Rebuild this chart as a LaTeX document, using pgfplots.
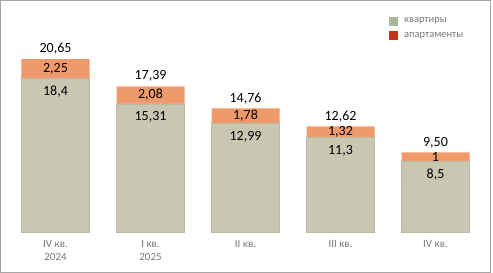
\documentclass[border=0pt]{standalone}
\usepackage{fontspec}
\setmainfont{Carlito}
\usepackage{pgfplots}
\usepackage{pgfplotstable}
\pgfplotsset{compat=1.18}
\definecolor{kv}{RGB}{201,199,177}
\definecolor{kvedge}{RGB}{188,186,162}
\definecolor{ap}{RGB}{238,154,106}
\definecolor{kvleg}{RGB}{170,182,152}
\definecolor{apleg}{RGB}{192,52,28}
\definecolor{frame}{RGB}{165,165,165}
\definecolor{tick}{RGB}{120,120,120}
\pgfplotstableread{
x kv ap tot kvl apl totl
0 18.40 2.25 20.65 18,4 2,25 20,65
1 15.31 2.08 17.39 15,31 2,08 17,39
2 12.99 1.78 14.76 12,99 1,78 14,76
3 11.30 1.32 12.62 11,3 1,32 12,62
4 8.50 1.00 9.50 8,5 1 9,50
}\data
\begin{document}
\begin{tikzpicture}[x=1pt,y=1pt]
\useasboundingbox (0,0) rectangle (493,273);
\draw[frame, line width=1pt] (0.5,0.5) rectangle (490.5,272.5);
\begin{axis}[
  at={(8pt,41pt)}, anchor=south west,
  scale only axis, width=475pt, height=222pt,
  xmin=-0.5, xmax=4.5, ymin=0, ymax=26.5,
  axis line style={draw=none},
  ytick=\empty,
  xtick={0,1,2,3,4},
  major tick length=0pt,
  xticklabels={{IV кв.\\2024},{I кв.\\2025},{II кв.},{III кв.},{IV кв.}},
  xticklabel style={align=center, font=\fontsize{11}{13}\selectfont, text=tick, yshift=-4.5pt, anchor=north},
  clip=false,
  legend image code/.code={\path[#1, draw=none] (0pt,-4.5pt) rectangle (9pt,4.5pt); \path[draw=none, fill=none] (0pt,0pt) rectangle (13pt,0.1pt);},
  legend style={at={(0.802,0.975)}, anchor=north west, draw=none, fill=none, inner sep=0pt,
    font=\fontsize{10.5}{12}\selectfont, text=tick, row sep=4pt},
  legend cell align=left,
]
\addplot[ybar, bar width=68pt, bar shift=0pt, fill=ap, draw=none, forget plot] table[x=x,y=tot]{\data};
\addplot[ybar, bar width=68pt, bar shift=0pt, fill=kv, draw=kvedge, forget plot] table[x=x,y=kv]{\data};
\addplot[draw=none, mark=none, forget plot, nodes near coords, point meta=explicit symbolic,
  every node near coord/.style={anchor=center, font=\fontsize{14}{14}\selectfont, text=black}]
  table[x=x, y expr=\thisrow{kv}+0.5*\thisrow{ap}, meta=apl]{\data};
\addplot[draw=none, mark=none, forget plot, nodes near coords, point meta=explicit symbolic,
  every node near coord/.style={anchor=center, yshift=-13.5pt, font=\fontsize{14}{14}\selectfont, text=black}]
  table[x=x, y=kv, meta=kvl]{\data};
\addplot[draw=none, mark=none, forget plot, nodes near coords, point meta=explicit symbolic,
  every node near coord/.style={anchor=center, yshift=10pt, font=\fontsize{14}{14}\selectfont, text=black}]
  table[x=x, y=tot, meta=totl]{\data};
\addlegendimage{fill=kvleg}
\addlegendentry{квартиры}
\addlegendimage{fill=apleg}
\addlegendentry{апартаменты}
\end{axis}
\end{tikzpicture}
\end{document}
